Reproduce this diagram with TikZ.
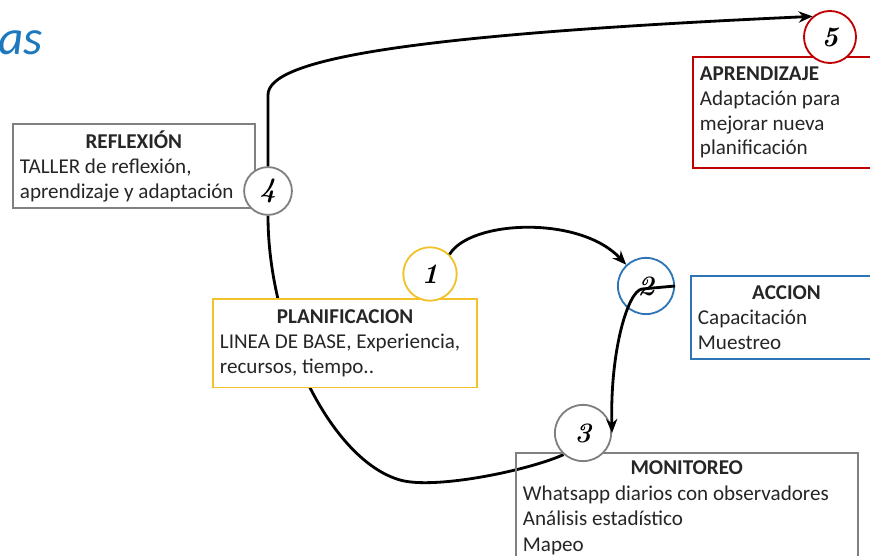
\documentclass[tikz,border=0pt]{standalone}
\usepackage{fontspec}
\setmainfont{Carlito}
\newfontfamily\numfont{Latin Modern Roman}
\usetikzlibrary{arrows.meta,backgrounds}
\definecolor{amarillo}{RGB}{242,194,40}
\definecolor{azul}{RGB}{46,117,182}
\definecolor{rojo}{RGB}{192,0,0}
\definecolor{gris}{RGB}{128,128,128}
\definecolor{titulo}{RGB}{30,120,190}
\definecolor{texto}{RGB}{38,38,38}
\tikzset{
    etapa/.style={draw, fill=white, line width=1.3pt, anchor=north west, inner xsep=5pt, inner ysep=3pt, align=flush left, text=texto, font=\fontsize{15}{17.7}\selectfont},
    num/.style={circle, draw, fill=white, line width=1.3pt, inner sep=0pt, minimum size=38pt, font=\numfont\bfseries\itshape\fontsize{20}{24}\selectfont},
    flujo/.style={line width=2pt, -{Stealth[length=10pt,width=8pt]}},
}
\begin{document}
\begin{tikzpicture}[x=0.025cm,y=-0.025cm]
    \useasboundingbox (0,0) rectangle (870,556);
    \node[anchor=base west, text=titulo, font=\itshape\fontsize{35}{40}\selectfont, inner sep=0pt] (titulo) at (-2,55) {as};

    % etapas del ciclo
    \node[etapa, draw=gris, text width=162pt, minimum height=60pt] (reflexion) at (12,123) {\makebox[\linewidth]{\bfseries REFLEXIÓN}\\TALLER de reflexión,\\aprendizaje y adaptación};
    \node[etapa, draw=amarillo, text width=178pt, minimum height=63pt] (planificacion) at (212,298) {\makebox[\linewidth]{\bfseries PLANIFICACION}\\LINEA DE BASE, Experiencia,\\recursos, tiempo..};
    \node[etapa, draw=azul, text width=126pt, minimum height=59pt] (accion) at (690,275) {\makebox[\linewidth]{\bfseries ACCION}\\Capacitación\\Muestreo};
    \node[etapa, draw=rojo, text width=117pt, minimum height=79pt] (aprendizaje) at (692,56) {\textbf{APRENDIZAJE}\\Adaptación para\\mejorar nueva\\planificación};
    \node[etapa, draw=gris, fill=none, inner ysep=5.5pt, font=\fontsize{15}{18.2}\selectfont, text width=233pt] (monitoreo) at (515,452) {\makebox[\linewidth]{\bfseries MONITOREO}\\Whatsapp diarios con observadores\\Análisis estadístico\\Mapeo};

    % numeros
    \node[num, draw=amarillo] (n1) at (430,274) {1};
    \node[num, draw=azul, minimum size=40pt] (n2) at (646,286) {2};
    \node[num, draw=gris, minimum size=40pt] (n3) at (583,433) {3};
    \node[num, draw=gris, minimum size=34pt] (n4) at (268,191) {4};
    \node[num, draw=rojo, minimum size=37pt] (n5) at (830,37) {5};

    % flechas
    \draw[flujo] (n1.45) .. controls (470,220) and (580,215) .. (n2.133);
    \draw[flujo] (n2.east) -- (642,289) .. controls (628,291) and (610,350) .. (n3.east);
    \begin{scope}[on background layer]
        \draw[line width=2pt] (n3.228) .. controls (530,470) and (435,490) .. (400,480) .. controls (330,460) and (268,330) .. (n4.south);
    \end{scope}
    \draw[flujo] (n4.north) -- (268,95) .. controls (268,60) and (400,35) .. (n5.130);
\end{tikzpicture}
\end{document}
